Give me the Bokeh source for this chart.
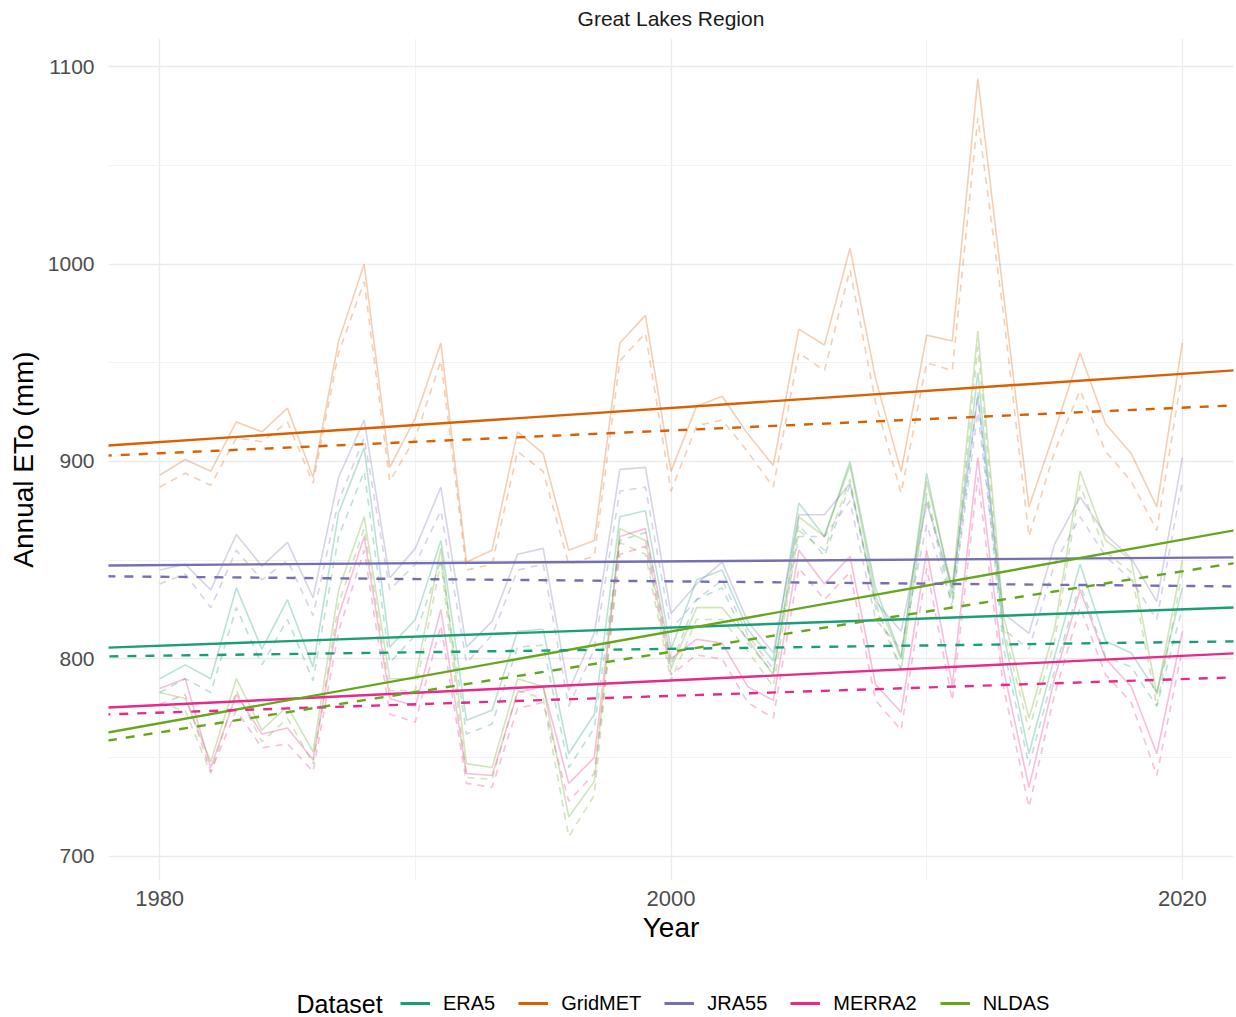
from bokeh.plotting import figure
from bokeh.layouts import column
from bokeh.models import Range1d, FixedTicker, Slope, Legend, LegendItem, Label
from bokeh.embed import file_html
from bokeh.resources import INLINE

# ---------------- data ----------------
years = list(range(1980, 2021))
datasets = ["ERA5", "GridMET", "JRA55", "MERRA2", "NLDAS"]
colors = ["#1B9E77", "#D95F02", "#7570B3", "#E7298A", "#66A61E"]

era5_solid = [790, 797, 790, 836, 805, 830, 796, 874, 907, 806, 820, 860, 769, 774, 814, 815, 752, 772, 872, 875,
              805, 840, 845, 815, 799, 879, 862, 900, 836, 801, 894, 833, 945, 813, 752, 801, 848, 809, 803, 783, 836]
era5_dashed = [783, 790, 783, 826, 797, 820, 789, 862, 895, 798, 812, 850, 762, 767, 806, 807, 745, 765, 860, 864,
               797, 830, 836, 808, 793, 868, 852, 888, 828, 795, 882, 826, 935, 806, 746, 794, 838, 801, 796, 776, 826]

gridmet_solid = [893, 901, 895, 920, 915, 927, 892, 961, 1000, 897, 922, 960, 849, 855, 915, 904, 855, 860, 960, 974,
                 895, 928, 933, 914, 898, 967, 959, 1008, 942, 895, 964, 961, 1094, 985, 877, 915, 955, 919, 904, 877, 960]
gridmet_dashed = [887, 894, 888, 912, 910, 920, 889, 955, 991, 890, 912, 951, 845, 848, 905, 895, 848, 852, 951, 965,
                  885, 918, 921, 905, 887, 955, 946, 997, 930, 884, 950, 946, 1074, 975, 862, 905, 936, 905, 890, 865, 945]

jra55_solid = [845, 848, 835, 863, 847, 859, 831, 892, 921, 841, 856, 887, 806, 819, 853, 856, 784, 813, 896, 897,
               823, 838, 849, 819, 803, 873, 873, 889, 829, 814, 879, 836, 933, 823, 813, 858, 882, 863, 851, 829, 902]
jra55_dashed = [838, 843, 826, 855, 840, 850, 822, 880, 912, 835, 848, 875, 798, 812, 845, 848, 776, 805, 885, 887,
                815, 830, 840, 812, 795, 862, 862, 880, 820, 805, 868, 828, 925, 815, 805, 848, 872, 852, 840, 820, 890]

merra2_solid = [785, 790, 745, 782, 762, 765, 749, 822, 862, 780, 776, 825, 742, 741, 783, 786, 737, 750, 862, 866,
                800, 810, 808, 786, 779, 855, 838, 852, 787, 773, 855, 787, 902, 795, 735, 790, 835, 800, 786, 752, 814]
merra2_dashed = [777, 782, 743, 774, 755, 757, 743, 814, 855, 772, 768, 817, 737, 735, 775, 778, 728, 742, 853, 857,
                 792, 802, 800, 778, 770, 846, 830, 844, 779, 764, 846, 779, 892, 786, 725, 782, 826, 792, 778, 741, 805]

nldas_solid = [783, 780, 748, 790, 764, 776, 753, 835, 872, 790, 790, 856, 747, 745, 790, 786, 720, 738, 866, 860,
               795, 826, 826, 810, 792, 872, 862, 898, 832, 800, 890, 836, 966, 822, 770, 815, 895, 860, 850, 782, 850]
nldas_dashed = [777, 774, 742, 784, 758, 770, 747, 828, 866, 784, 784, 849, 740, 739, 784, 780, 710, 731, 859, 853,
                789, 820, 820, 804, 786, 865, 855, 891, 826, 794, 884, 830, 958, 816, 764, 809, 888, 854, 844, 776, 844]

solid_series = [era5_solid, gridmet_solid, jra55_solid, merra2_solid, nldas_solid]
dashed_series = [era5_dashed, gridmet_dashed, jra55_dashed, merra2_dashed, nldas_dashed]

# linear trends: value at year 2000 and slope (mm / year)
trend_ref_year = 2000
trend_solid_at_ref = [815.9, 927.1, 849.4, 789.1, 813.9]
trend_solid_slope = [0.461, 0.864, 0.093, 0.623, 2.325]
trend_dashed_at_ref = [805.1, 915.7, 839.3, 781.3, 803.6]
trend_dashed_slope = [0.173, 0.577, -0.116, 0.425, 2.039]

x_ticks = [1980, 2000, 2020]
x_minor = [1990, 2010]
y_ticks = [700, 800, 900, 1000, 1100]
y_minor = [750, 850, 950, 1050]

chart_title = "Great Lakes Region"

FONT = "Liberation Sans"
LEFT = 108   # plot frames in the column are aligned to the main frame's left edge


def strip(height):
    f = figure(width=1236, height=height, output_backend="svg", toolbar_location=None,
               x_range=Range1d(0, 1), y_range=Range1d(0, 1),
               x_axis_location=None, y_axis_location=None,
               min_border=0, min_border_left=0, min_border_right=0,
               min_border_top=0, min_border_bottom=0)
    f.outline_line_color = None
    f.xgrid.visible = False
    f.ygrid.visible = False
    f.background_fill_color = "white"
    f.border_fill_color = "white"
    return f


# ---------------- title strip ----------------
top = strip(38)
top.add_layout(Label(x=670.5 - LEFT, y=20, x_units="screen", y_units="screen", text=chart_title,
                     text_font=FONT, text_font_size="21px", text_baseline="middle",
                     text_align="center", text_color="#1a1a1a"))

# ---------------- main figure ----------------
p = figure(width=1236, height=922, output_backend="svg", toolbar_location=None,
           x_range=Range1d(1978, 2022), y_range=Range1d(687.8, 1114.2),
           min_border_left=108, min_border_right=3, min_border_top=0, min_border_bottom=80)
p.outline_line_color = None
p.background_fill_color = "white"
p.border_fill_color = "white"

p.xaxis.ticker = FixedTicker(ticks=x_ticks, minor_ticks=x_minor)
p.yaxis.ticker = FixedTicker(ticks=y_ticks, minor_ticks=y_minor)

for ax in (p.xaxis, p.yaxis):
    ax.axis_line_color = None
    ax.major_tick_line_color = None
    ax.minor_tick_line_color = None
    ax.major_label_text_font = FONT
    ax.major_label_text_color = "#4D4D4D"
    ax.axis_label_text_font = FONT
    ax.axis_label_text_font_style = "normal"
    ax.axis_label_text_color = "black"
    ax.axis_label_text_font_size = "28px"

p.xaxis.axis_label = "Year"
p.yaxis.axis_label = "Annual ETo (mm)"
p.xaxis.major_label_text_font_size = "22px"
p.yaxis.major_label_text_font_size = "21px"
p.yaxis.major_label_standoff = 8
p.xaxis.major_label_standoff = 4
p.yaxis.axis_label_standoff = 6
p.xaxis.axis_label_standoff = 3

for g in (p.xgrid, p.ygrid):
    g.grid_line_color = "#EBEBEB"
    g.grid_line_width = 1.3
    g.minor_grid_line_color = "#F2F2F2"
    g.minor_grid_line_width = 1.0

# faded yearly series
for c, s, d in zip(colors, solid_series, dashed_series):
    p.line(years, s, line_color=c, line_alpha=0.3, line_width=1.6)
    p.line(years, d, line_color=c, line_alpha=0.3, line_width=1.6, line_dash="7 6")

# trend lines
for c, a, b in zip(colors, trend_solid_at_ref, trend_solid_slope):
    p.add_layout(Slope(gradient=b, y_intercept=a - b * trend_ref_year,
                       line_color=c, line_width=2.4))
for c, a, b in zip(colors, trend_dashed_at_ref, trend_dashed_slope):
    p.add_layout(Slope(gradient=b, y_intercept=a - b * trend_ref_year,
                       line_color=c, line_width=2.4, line_dash="9 9"))

# ---------------- legend strip ----------------
leg = strip(57)
nan = float("nan")
items = []
for name, c in zip(datasets, colors):
    r = leg.line(x=[nan], y=[nan], line_color=c, line_width=3)
    items.append(LegendItem(label=name, renderers=[r]))

legend = Legend(items=items, orientation="horizontal", location=(400 - LEFT, 2),
                glyph_width=30, glyph_height=24, label_height=24, label_standoff=13,
                spacing=23, padding=0, margin=0,
                label_text_font=FONT, label_text_font_size="20px", label_text_color="black",
                background_fill_alpha=0, border_line_color=None)
leg.add_layout(legend)

leg.add_layout(Label(x=296 - LEFT, y=14, x_units="screen", y_units="screen", text="Dataset",
                     text_font=FONT, text_font_size="25px", text_baseline="middle",
                     text_align="left", text_color="black"))

layout = column(top, p, leg, spacing=0)
open("out.html", "w").write(file_html(layout, INLINE))
